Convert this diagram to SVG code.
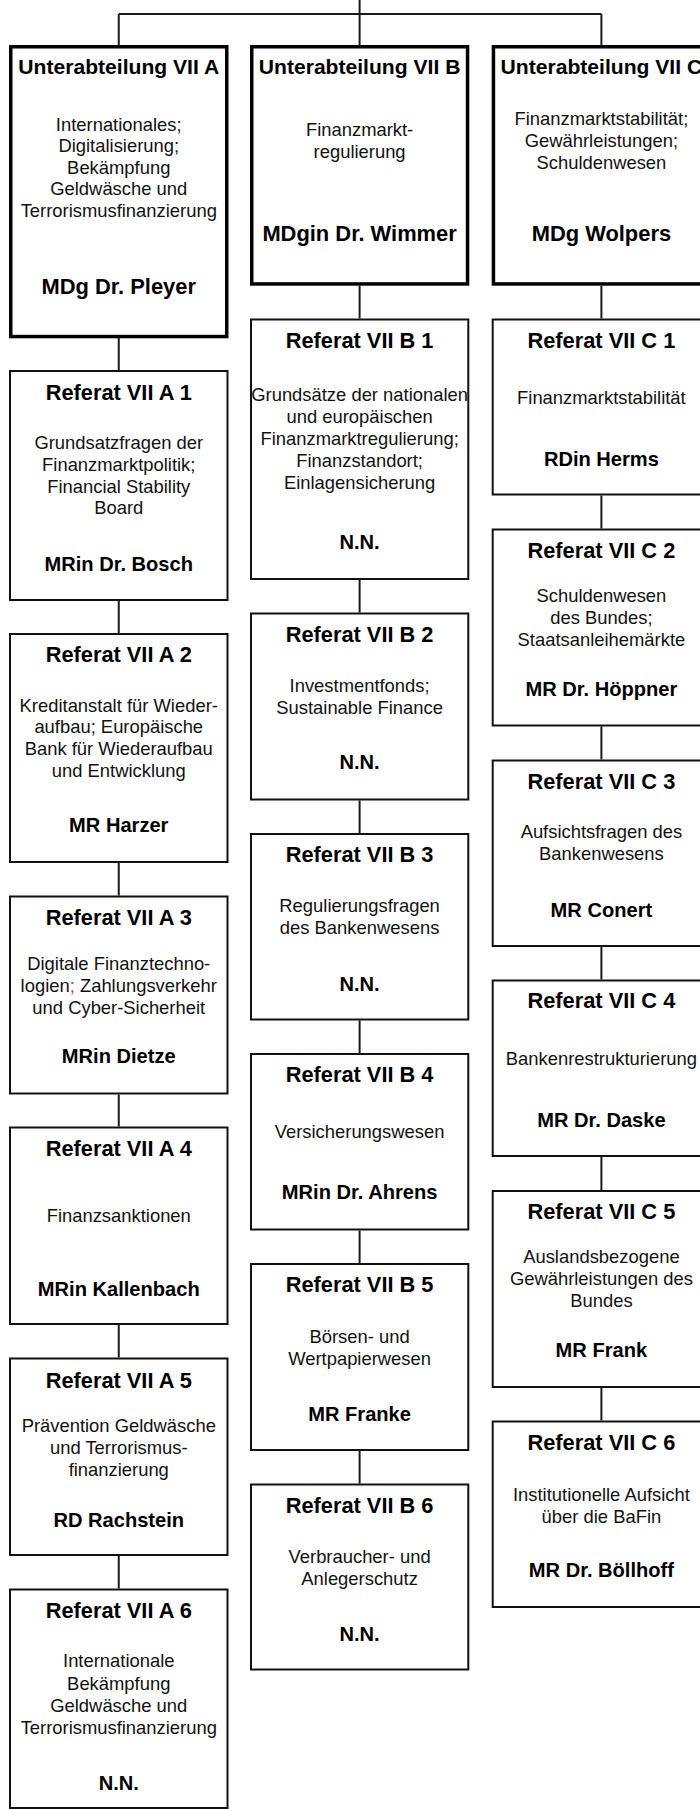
<svg xmlns="http://www.w3.org/2000/svg" width="700" height="1809" viewBox="0 0 700 1809">
<style>
.ua{fill:#fff;stroke:#000;stroke-width:3.5}
.rf{fill:#fff;stroke:#111;stroke-width:2}
.cn line{stroke:#1a1a1a;stroke-width:2}
text{font-family:"Liberation Sans",Arial,Helvetica,sans-serif;text-anchor:middle;fill:#000}
.h1{font-size:21.1px;font-weight:bold}
.n1{font-size:21.9px;font-weight:bold}
.h{font-size:21.8px;font-weight:bold}
.n{font-size:20.1px;font-weight:bold}
.b{font-size:18.4px;fill:#111}
.red{fill:#e03030}
</style>
<rect width="700" height="1809" fill="#fff"/>
<g id="connectors" class="cn">
<line x1="118.75" y1="14" x2="601.4" y2="14"/>
<line x1="359.6" y1="0" x2="359.6" y2="45"/>
<line x1="118.75" y1="14" x2="118.75" y2="45"/>
<line x1="601.4" y1="14" x2="601.4" y2="45"/>
<line x1="118.75" y1="338" x2="118.75" y2="370"/>
<line x1="118.75" y1="601" x2="118.75" y2="633"/>
<line x1="118.75" y1="863" x2="118.75" y2="895.5"/>
<line x1="118.75" y1="1094.5" x2="118.75" y2="1126.5"/>
<line x1="118.75" y1="1325" x2="118.75" y2="1357.5"/>
<line x1="118.75" y1="1556" x2="118.75" y2="1588.5"/>
<line x1="359.6" y1="285.7" x2="359.6" y2="318.5"/>
<line x1="359.6" y1="580" x2="359.6" y2="612.5"/>
<line x1="359.6" y1="800.5" x2="359.6" y2="833"/>
<line x1="359.6" y1="1020.5" x2="359.6" y2="1053"/>
<line x1="359.6" y1="1230.5" x2="359.6" y2="1263"/>
<line x1="359.6" y1="1451" x2="359.6" y2="1483.5"/>
<line x1="601.4" y1="285.7" x2="601.4" y2="318.5"/>
<line x1="601.4" y1="495.5" x2="601.4" y2="528.5"/>
<line x1="601.4" y1="726.5" x2="601.4" y2="759.5"/>
<line x1="601.4" y1="947" x2="601.4" y2="979.5"/>
<line x1="601.4" y1="1157" x2="601.4" y2="1190"/>
<line x1="601.4" y1="1388" x2="601.4" y2="1420.5"/>
</g>

<g id="ua-vii-a">
<rect class="ua" x="10.75" y="46.75" width="216" height="289.8"/>
<text class="h1" x="118.75" y="74">Unterabteilung VII A</text>
<text class="b" x="118.75" y="130.7">Internationales;</text>
<text class="b" x="118.75" y="152.2">Digitalisierung;</text>
<text class="b" x="118.75" y="173.7">Bekämpfung</text>
<text class="b" x="118.75" y="195.2">Geldwäsche und</text>
<text class="b" x="118.75" y="216.7">Terrorismusfinanzierung</text>
<text class="n1" x="118.75" y="294">MDg Dr. Pleyer</text>
</g>
<g id="ua-vii-b">
<rect class="ua" x="251.75" y="46.75" width="215.8" height="237.2"/>
<text class="h1" x="359.6" y="74">Unterabteilung VII B</text>
<text class="b" x="359.6" y="135.5">Finanzmarkt-</text>
<text class="b" x="359.6" y="157.5">regulierung</text>
<text class="n1" x="359.6" y="241">MDgin Dr. Wimmer</text>
</g>
<g id="ua-vii-c">
<rect class="ua" x="493.45" y="46.75" width="216" height="237.2"/>
<text class="h1" x="601.4" y="74">Unterabteilung VII C</text>
<text class="b" x="601.4" y="125">Finanzmarktstabilität;</text>
<text class="b" x="601.4" y="147">Gewährleistungen;</text>
<text class="b" x="601.4" y="169">Schuldenwesen</text>
<text class="n1" x="601.4" y="241">MDg Wolpers</text>
</g>

<g id="ref-vii-a-1">
<rect class="rf" x="10" y="371" width="217.5" height="229"/>
<text class="h" x="118.75" y="400">Referat VII A 1</text>
<text class="b" x="118.75" y="449">Grundsatzfragen der</text>
<text class="b" x="118.75" y="470.8">Finanzmarktpolitik;</text>
<text class="b" x="118.75" y="492.6">Financial Stability</text>
<text class="b" x="118.75" y="514.4">Board</text>
<text class="n" x="118.75" y="570.5">MRin Dr. Bosch</text>
</g>
<g id="ref-vii-a-2">
<rect class="rf" x="10" y="634" width="217.5" height="228"/>
<text class="h" x="118.75" y="662.3">Referat VII A 2</text>
<text class="b" x="118.75" y="711.5">Kreditanstalt für Wieder-</text>
<text class="b" x="118.75" y="733.2">aufbau; Europäische</text>
<text class="b" x="118.75" y="754.9">Bank für Wiederaufbau</text>
<text class="b" x="118.75" y="776.6">und Entwicklung</text>
<text class="n" x="118.75" y="832">MR Harzer</text>
</g>
<g id="ref-vii-a-3">
<rect class="rf" x="10" y="896.5" width="217.5" height="197"/>
<text class="h" x="118.75" y="924.5">Referat VII A 3</text>
<text class="b" x="118.75" y="970">Digitale Finanztechno-</text>
<text class="b" x="118.75" y="992">logien<tspan class="red">;</tspan> Zahlungsverkehr</text>
<text class="b" x="118.75" y="1014">und Cyber-Sicherheit</text>
<text class="n" x="118.75" y="1063">MRin Dietze</text>
</g>
<g id="ref-vii-a-4">
<rect class="rf" x="10" y="1127.5" width="217.5" height="196.5"/>
<text class="h" x="118.75" y="1156">Referat VII A 4</text>
<text class="b" x="118.75" y="1222">Finanzsanktionen</text>
<text class="n" x="118.75" y="1295.5">MRin Kallenbach</text>
</g>
<g id="ref-vii-a-5">
<rect class="rf" x="10" y="1358.5" width="217.5" height="196.5"/>
<text class="h" x="118.75" y="1387.5">Referat VII A 5</text>
<text class="b" x="118.75" y="1431.9">Prävention Geldwäsche</text>
<text class="b" x="118.75" y="1453.7">und Terrorismus-</text>
<text class="b" x="118.75" y="1475.6">finanzierung</text>
<text class="n" x="118.75" y="1526.5">RD Rachstein</text>
</g>
<g id="ref-vii-a-6">
<rect class="rf" x="10" y="1589.5" width="217.5" height="218.5"/>
<text class="h" x="118.75" y="1617.5">Referat VII A 6</text>
<text class="b" x="118.75" y="1667.4">Internationale</text>
<text class="b" x="118.75" y="1689.5">Bekämpfung</text>
<text class="b" x="118.75" y="1711.5">Geldwäsche und</text>
<text class="b" x="118.75" y="1733.6">Terrorismusfinanzierung</text>
<text class="n" x="118.75" y="1789.8">N.N.</text>
</g>

<g id="ref-vii-b-1">
<rect class="rf" x="251" y="319.5" width="217.3" height="259.5"/>
<text class="h" x="359.6" y="347.7">Referat VII B 1</text>
<text class="b" x="359.6" y="401">Grundsätze der nationalen</text>
<text class="b" x="359.6" y="423">und europäischen</text>
<text class="b" x="359.6" y="445">Finanzmarktregulierung;</text>
<text class="b" x="359.6" y="467">Finanzstandort;</text>
<text class="b" x="359.6" y="489">Einlagensicherung</text>
<text class="n" x="359.6" y="548.5">N.N.</text>
</g>
<g id="ref-vii-b-2">
<rect class="rf" x="251" y="613.5" width="217.3" height="186"/>
<text class="h" x="359.6" y="641.5">Referat VII B 2</text>
<text class="b" x="359.6" y="691.7">Investmentfonds;</text>
<text class="b" x="359.6" y="713.5">Sustainable Finance</text>
<text class="n" x="359.6" y="769">N.N.</text>
</g>
<g id="ref-vii-b-3">
<rect class="rf" x="251" y="834" width="217.3" height="185.5"/>
<text class="h" x="359.6" y="861.5">Referat VII B 3</text>
<text class="b" x="359.6" y="911.7">Regulierungsfragen</text>
<text class="b" x="359.6" y="933.7">des Bankenwesens</text>
<text class="n" x="359.6" y="990.5">N.N.</text>
</g>
<g id="ref-vii-b-4">
<rect class="rf" x="251" y="1054" width="217.3" height="175.5"/>
<text class="h" x="359.6" y="1082">Referat VII B 4</text>
<text class="b" x="359.6" y="1138.3">Versicherungswesen</text>
<text class="n" x="359.6" y="1198.5">MRin Dr. Ahrens</text>
</g>
<g id="ref-vii-b-5">
<rect class="rf" x="251" y="1264" width="217.3" height="186"/>
<text class="h" x="359.6" y="1292.3">Referat VII B 5</text>
<text class="b" x="359.6" y="1342.5">Börsen- und</text>
<text class="b" x="359.6" y="1364.5">Wertpapierwesen</text>
<text class="n" x="359.6" y="1420.5">MR Franke</text>
</g>
<g id="ref-vii-b-6">
<rect class="rf" x="251" y="1484.5" width="217.3" height="185"/>
<text class="h" x="359.6" y="1513">Referat VII B 6</text>
<text class="b" x="359.6" y="1563.1">Verbraucher- und</text>
<text class="b" x="359.6" y="1585.2">Anlegerschutz</text>
<text class="n" x="359.6" y="1641">N.N.</text>
</g>

<g id="ref-vii-c-1">
<rect class="rf" x="492.7" y="319.5" width="218" height="175"/>
<text class="h" x="601.4" y="347.7">Referat VII C 1</text>
<text class="b" x="601.4" y="404.3">Finanzmarktstabilität</text>
<text class="n" x="601.4" y="466">RDin Herms</text>
</g>
<g id="ref-vii-c-2">
<rect class="rf" x="492.7" y="529.5" width="218" height="196"/>
<text class="h" x="601.4" y="557.5">Referat VII C 2</text>
<text class="b" x="601.4" y="601.7">Schuldenwesen</text>
<text class="b" x="601.4" y="623.6">des Bundes;</text>
<text class="b" x="601.4" y="645.5">Staatsanleihemärkte</text>
<text class="n" x="601.4" y="695.5">MR Dr. Höppner</text>
</g>
<g id="ref-vii-c-3">
<rect class="rf" x="492.7" y="760.5" width="218" height="185.5"/>
<text class="h" x="601.4" y="788.5">Referat VII C 3</text>
<text class="b" x="601.4" y="838.3">Aufsichtsfragen des</text>
<text class="b" x="601.4" y="860.4">Bankenwesens</text>
<text class="n" x="601.4" y="916.5">MR Conert</text>
</g>
<g id="ref-vii-c-4">
<rect class="rf" x="492.7" y="980.5" width="218" height="175.5"/>
<text class="h" x="601.4" y="1008">Referat VII C 4</text>
<text class="b" x="601.4" y="1065">Bankenrestrukturierung</text>
<text class="n" x="601.4" y="1126.5">MR Dr. Daske</text>
</g>
<g id="ref-vii-c-5">
<rect class="rf" x="492.7" y="1191" width="218" height="196"/>
<text class="h" x="601.4" y="1219.3">Referat VII C 5</text>
<text class="b" x="601.4" y="1263">Auslandsbezogene</text>
<text class="b" x="601.4" y="1285.1">Gewährleistungen des</text>
<text class="b" x="601.4" y="1307.2">Bundes</text>
<text class="n" x="601.4" y="1357">MR Frank</text>
</g>
<g id="ref-vii-c-6">
<rect class="rf" x="492.7" y="1421.5" width="218" height="185.5"/>
<text class="h" x="601.4" y="1449.6">Referat VII C 6</text>
<text class="b" x="601.4" y="1500.9">Institutionelle Aufsicht</text>
<text class="b" x="601.4" y="1523">über die BaFin</text>
<text class="n" x="601.4" y="1577">MR Dr. Böllhoff</text>
</g>
</svg>
